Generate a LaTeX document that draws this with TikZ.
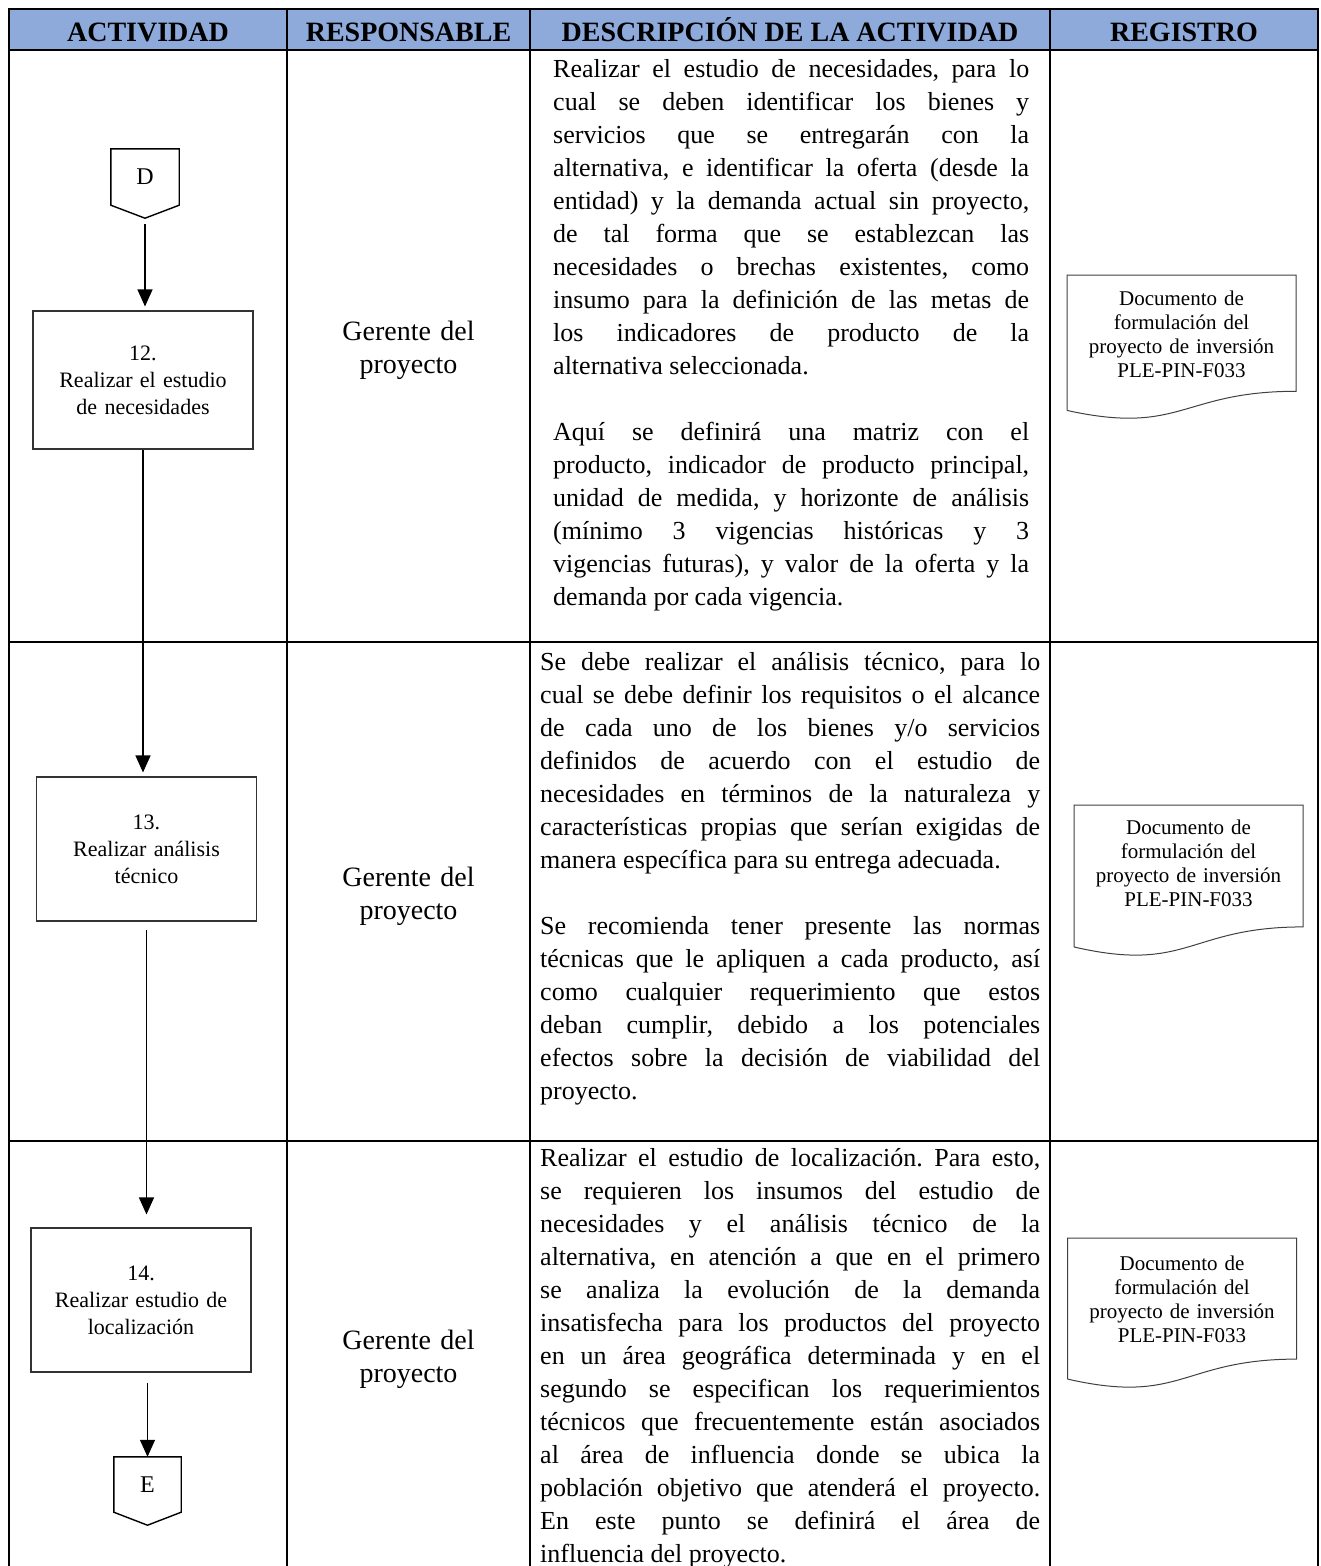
\documentclass[tikz,border=0pt]{standalone}
\usepackage{fontspec}
\setmainfont{Liberation Serif}
\usetikzlibrary{arrows.meta,calc}
\frenchspacing

\definecolor{headblue}{HTML}{8EAADB}

\tikzset{
  grid/.style={line width=2pt},
  head/.style={font=\fontsize{28}{30}\selectfont\bfseries, text height=18pt, text depth=0pt, inner sep=0pt},
  actbox/.style={draw=black!80, line width=1.1pt, minimum width=220pt, text width=205pt, align=center, inner sep=0pt, font=\fontsize{22}{27}\selectfont},
  conn/.style={minimum width=68pt, minimum height=56pt, inner sep=0pt, font=\fontsize{24}{26}\selectfont},
  connline/.style={draw=black, line width=1.4pt, line join=miter},
  flow/.style={line width=1.3pt, -{Triangle[length=17pt,width=15pt]}, shorten >=4pt},
  resp/.style={anchor=base, text width=230pt, align=center, inner sep=0pt, font=\fontsize{28}{33}\selectfont},
  desc/.style={anchor=base west, align=justify, inner sep=0pt, font=\fontsize{26}{33}\selectfont,
    execute at begin node={\tolerance=9999\hbadness=10000\hyphenpenalty=10000}},
  docbox/.style={minimum width=229pt, inner sep=0pt, outer sep=0pt},
  doctext/.style={text width=215pt, align=center, inner sep=0pt, font=\fontsize{21}{24}\selectfont},
  docline/.style={draw=black!75, line width=1pt}
}

% outline of a document symbol drawn on a docbox node
\newcommand{\docoutline}[1]{%
  \draw[docline] ($(#1.north west)!0.934!(#1.south west)$) -- (#1.north west) -- (#1.north east)
    -- ($(#1.north east)!0.802!(#1.south east)$)
    .. controls ($(#1.north)!0.802!(#1.south)$) and ($(#1.north)!1.108!(#1.south)$)
    .. ($(#1.north west)!0.934!(#1.south west)$);}

\begin{document}
\begin{tikzpicture}[x=1pt,y=-1pt]

\useasboundingbox (0,0) rectangle (1320,1566);
\clip (0,0) rectangle (1320,1566);

% HEADER
\fill[headblue] (9,9) rectangle (1318,50);
\node[head] (hact) at (148,32) {ACTIVIDAD};
\node[head] (hresp) at (408.5,32) {RESPONSABLE};
\node[head] (hdesc) at (790,32) {DESCRIPCIÓN DE LA ACTIVIDAD};
\node[head] (hreg) at (1184,32) {REGISTRO};

% TABLE LINES
\draw[grid] (8,9) -- (1319,9);
\draw[grid] (8,50) -- (1319,50);
\draw[grid] (8,642) -- (1319,642);
\draw[grid] (8,1141) -- (1319,1141);
\foreach \x in {9,287,530,1050,1318}
  \draw[grid] (\x,8) -- (\x,1580);

% ACTIVIDAD COLUMN
\node[conn] (d) at (145,177) {D};
\coordinate (dtip) at ($(d.south)+(0,13)$);
\draw[connline] (d.north west) -- (d.north east) -- (d.south east) -- (dtip) -- (d.south west) -- cycle;

\node[actbox, minimum height=138pt] (b12) at (143,380) {12.\\Realizar el estudio\\de necesidades};
\node[actbox, minimum height=144pt] (b13) at (146.5,849) {13.\\Realizar análisis\\técnico};
\node[actbox, minimum height=144pt] (b14) at (141,1300) {14.\\Realizar estudio de\\localización};

\node[conn, minimum width=67pt, minimum height=55pt] (e) at (147.5,1484.5) {E};
\coordinate (etip) at ($(e.south)+(0,13)$);
\draw[connline] (e.north west) -- (e.north east) -- (e.south east) -- (etip) -- (e.south west) -- cycle;

\draw[flow, shorten <=6pt] (dtip) -- (dtip |- b12.north);
\draw[flow] (b12.south) -- (b12.south |- b13.north);
\draw[flow, shorten <=8pt, shorten >=13pt] (b13.south) -- (b13.south |- b14.north);
\draw[flow, shorten <=10pt, shorten >=0pt] (e.north |- b14.south) -- (e.north);

% RESPONSABLE COLUMN
\node[resp] (r12) at (408.5,340) {Gerente del\\proyecto};
\node[resp] (r13) at (408.5,886) {Gerente del\\proyecto};
\node[resp] (r14) at (408.5,1349) {Gerente del\\proyecto};

% DESCRIPCION COLUMN
\node[desc, text width=476pt] (t12) at (553,77) {Realizar el estudio de necesidades, para lo\linebreak
cual se deben identificar los bienes y\linebreak
servicios que se entregarán con la\linebreak
alternativa, e identificar la oferta (desde la\linebreak
entidad) y la demanda actual sin proyecto,\linebreak
de tal forma que se establezcan las\linebreak
necesidades o brechas existentes, como\linebreak
insumo para la definición de las metas de\linebreak
los indicadores de producto de la\linebreak
alternativa seleccionada.\par\vspace{33pt}
Aquí se definirá una matriz con el\linebreak
producto, indicador de producto principal,\linebreak
unidad de medida, y horizonte de análisis\linebreak
(mínimo 3 vigencias históricas y 3\linebreak
vigencias futuras), y valor de la oferta y la\linebreak
demanda por cada vigencia.};

\node[desc, text width=500pt] (t13) at (540,670) {Se debe realizar el análisis técnico, para lo\linebreak
cual se debe definir los requisitos o el alcance\linebreak
de cada uno de los bienes y/o servicios\linebreak
definidos de acuerdo con el estudio de\linebreak
necesidades en términos de la naturaleza y\linebreak
características propias que serían exigidas de\linebreak
manera específica para su entrega adecuada.\par\vspace{33pt}
Se recomienda tener presente las normas\linebreak
técnicas que le apliquen a cada producto, así\linebreak
como cualquier requerimiento que estos\linebreak
deban cumplir, debido a los potenciales\linebreak
efectos sobre la decisión de viabilidad del\linebreak
proyecto.};

\node[desc, text width=500pt] (t14) at (540,1166) {Realizar el estudio de localización. Para esto,\linebreak
se requieren los insumos del estudio de\linebreak
necesidades y el análisis técnico de la\linebreak
alternativa, en atención a que en el primero\linebreak
se analiza la evolución de la demanda\linebreak
insatisfecha para los productos del proyecto\linebreak
en un área geográfica determinada y en el\linebreak
segundo se especifican los requerimientos\linebreak
técnicos que frecuentemente están asociados\linebreak
al área de influencia donde se ubica la\linebreak
población objetivo que atenderá el proyecto.\linebreak
En este punto se definirá el área de\linebreak
influencia del proyecto.};

% REGISTRO COLUMN
\node[docbox, minimum height=145pt,
  label={[doctext, name=doc12t, yshift=13.5pt]center:{Documento de\\formulación del\\proyecto de inversión\\PLE-PIN-F033}}] (doc12) at (1181.5,347.5) {};
\docoutline{doc12}
\node[docbox, minimum height=152pt,
  label={[doctext, name=doc13t, yshift=18pt]center:{Documento de\\formulación del\\proyecto de inversión\\PLE-PIN-F033}}] (doc13) at (1188.5,881) {};
\docoutline{doc13}
\node[docbox, minimum height=151pt,
  label={[doctext, name=doc14t, yshift=14.5pt]center:{Documento de\\formulación del\\proyecto de inversión\\PLE-PIN-F033}}] (doc14) at (1182,1313.5) {};
\docoutline{doc14}

\end{tikzpicture}
\end{document}
